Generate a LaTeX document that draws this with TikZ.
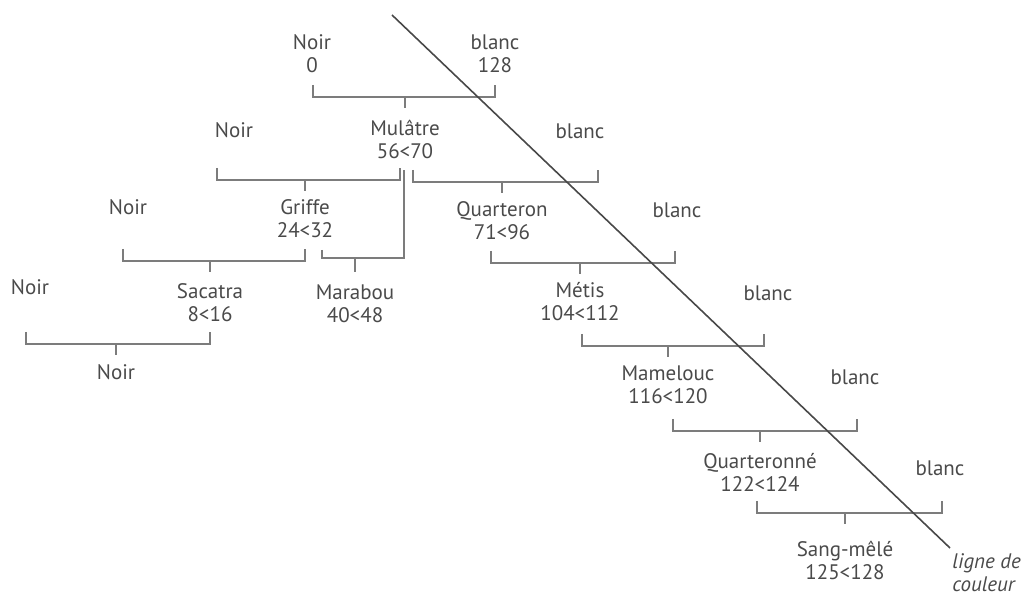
\documentclass[tikz,border=0pt]{standalone}
\usepackage{fontspec}
\setmainfont{PT Sans}
\usetikzlibrary{calc}
\definecolor{mtext}{HTML}{4A4A4A}
\definecolor{mline}{HTML}{7C7C7C}
\definecolor{mdiag}{HTML}{484848}
\tikzset{lbl/.style = {text=mtext, align=center, inner sep=0,
                       font=\fontsize{10.5}{11.5}\selectfont}}
\tikzset{brk/.style = {draw=mline, line width=0.7pt}}
\tikzset{diag/.style = {draw=mdiag, line width=0.8pt}}
% bracket: left node, right node, child node, bar level, left shift, right shift
\newcommand{\fork}[6]{%
  \draw [brk] ($(#1 |- 0,#4)+(#5,-12)$) -- ++(0,12) -- ($(#2 |- 0,#4)+(#6,0)$) -- ++(0,-12);
  \draw [brk] (#3 |- 0,#4) -- ++(0,11);}

\begin{document}
\begin{tikzpicture}[x=0.5pt, y=-0.5pt]
          \useasboundingbox (0,0) rectangle (1024,597);
          \node [lbl] (noirA) at (312, 54) {Noir\\0};
          \node [lbl] (blancA) at (495, 54) {blanc\\128};
          \node [lbl] (mulatre) at (405, 139) {Mulâtre\\56<70};
          \node [lbl] (noirB) at (234, 130) {Noir};
          \node [lbl] (blancB) at (580, 131) {blanc};
          \node [lbl] (griffe) at (305, 219) {Griffe\\24<32};
          \node [lbl] (noirC) at (128, 207) {Noir};
          \node [lbl] (quarteron) at (502, 221) {Quarteron\\71<96};
          \node [lbl] (blancC) at (677, 210) {blanc};
          \node [lbl] (noirD) at (30, 287) {Noir};
          \node [lbl] (sacatra) at (210, 303) {Sacatra\\8<16};
          \node [lbl] (marabou) at (355, 304) {Marabou\\40<48};
          \node [lbl] (metis) at (580, 302) {Métis\\104<112};
          \node [lbl] (blancD) at (768, 293) {blanc};
          \node [lbl] (noirE) at (116, 372) {Noir};
          \node [lbl] (mamelouc) at (668, 385) {Mamelouc\\116<120};
          \node [lbl] (blancE) at (855, 377) {blanc};
          \node [lbl] (quarteronne) at (760, 472) {Quarteronné\\122<124};
          \node [lbl] (blancF) at (940, 468) {blanc};
          \node [lbl] (sangmele) at (845, 560) {Sang-mêlé\\125<128};

          \fork{noirA}{blancA}{mulatre}{97}{1}{0}
          \fork{noirB}{mulatre}{griffe}{180}{-17}{-5}
          \fork{mulatre}{blancB}{quarteron}{182}{8}{18}
          \fork{noirC}{griffe}{sacatra}{261}{-5}{0}
          \fork{quarteron}{blancC}{metis}{263}{-11}{-2}
          \fork{noirD}{sacatra}{noirE}{344}{-4}{0}
          \fork{metis}{blancD}{mamelouc}{346}{2}{-4}
          \fork{mamelouc}{blancE}{quarteronne}{431}{5}{2}
          \fork{quarteronne}{blancF}{sangmele}{513}{-3}{2}

          % Marabou hangs from Mulatre
          \draw [brk] ($(marabou |- 0,258)+(-33,-8)$) -- ++(0,8)
                -- ($(mulatre |- 0,258)+(-1,0)$) -- ($(mulatre |- 0,170)+(-1,0)$);
          \draw [brk] (marabou |- 0,258) -- ++(0,14);

          \coordinate (ltop) at (392, 15);
          \coordinate (lbot) at (950, 548);
          \draw [diag] (ltop) -- (lbot);
          \node [lbl, anchor=north west, align=left, font=\fontsize{10.5}{11.5}\selectfont\itshape]
                (ligne) at (952, 553) {ligne de\\couleur};
        \end{tikzpicture}
\end{document}
